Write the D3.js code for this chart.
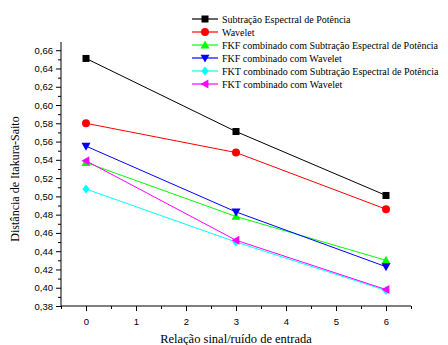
<!DOCTYPE html>
<html><head><meta charset="utf-8">
<script src="https://cdn.jsdelivr.net/npm/d3@7"></script>
<style>body{margin:0;background:#fff}svg{display:block}</style>
</head><body>
<svg id="c" width="448" height="345"></svg>
<script>
const xValues = [0, 3, 6];
const seriesNames = [
  "Subtração Espectral de Potência",
  "Wavelet",
  "FKF combinado com Subtração Espectral de Potência",
  "FKF combinado com Wavelet",
  "FKT combinado com Subtração Espectral de Potência",
  "FKT combinado com Wavelet"
];
const spsValues = [0.651, 0.571, 0.501];
const waveletValues = [0.580, 0.548, 0.486];
const fkfSpsValues = [0.537, 0.478, 0.430];
const fkfWaveletValues = [0.555, 0.483, 0.423];
const fktSpsValues = [0.508, 0.450, 0.397];
const fktWaveletValues = [0.539, 0.452, 0.398];
const seriesColors = ["#000000", "#ff0000", "#00ff00", "#0000ff", "#00ffff", "#ff00ff"];
const seriesMarkers = ["square", "circle", "triUp", "triDown", "diamond", "triLeft"];
const xTicks = [0, 1, 2, 3, 4, 5, 6];
const yTicks = [0.38,0.40,0.42,0.44,0.46,0.48,0.50,0.52,0.54,0.56,0.58,0.60,0.62,0.64,0.66];
const xTitle = "Relação sinal/ruído de entrada";
const yTitle = "Distância de Itakura-Saito";

const allValues = [spsValues, waveletValues, fkfSpsValues, fkfWaveletValues, fktSpsValues, fktWaveletValues];
const svg = d3.select("#c");
const x = d3.scaleLinear().domain([-0.5, 6.5]).range([61, 411]);
const y = d3.scaleLinear().domain([0.38, 0.669]).range([306, 42]);

function marker(g, type, cx, cy, color) {
  const s = 3.5;
  let el;
  if (type === "square") el = g.append("rect").attr("x", cx - s).attr("y", cy - s).attr("width", 2*s).attr("height", 2*s);
  else if (type === "circle") el = g.append("circle").attr("cx", cx).attr("cy", cy).attr("r", 4);
  else {
    let pts;
    const r = 4.5;
    if (type === "triUp") pts = [[cx, cy - r], [cx + r, cy + r*0.75], [cx - r, cy + r*0.75]];
    else if (type === "triDown") pts = [[cx, cy + r], [cx + r, cy - r*0.75], [cx - r, cy - r*0.75]];
    else if (type === "triLeft") pts = [[cx - r, cy], [cx + r*0.75, cy - r], [cx + r*0.75, cy + r]];
    else pts = [[cx, cy - r], [cx + r*0.8, cy], [cx, cy + r], [cx - r*0.8, cy]];
    el = g.append("polygon").attr("points", pts.map(p => p.join(",")).join(" "));
  }
  el.attr("fill", color);
}

// axes
const xAxis = svg.append("g").attr("transform", "translate(0,306)")
  .call(d3.axisBottom(x).tickValues(xTicks).tickSize(5).tickSizeOuter(0).tickFormat(d3.format("d")));
svg.append("g").attr("transform", "translate(0,306)")
  .call(d3.axisBottom(x).tickValues(d3.range(-0.5, 6.51, 1)).tickSize(3).tickFormat(""))
  .select(".domain").remove();
const yAxis = svg.append("g").attr("transform", "translate(61,0)")
  .call(d3.axisLeft(y).tickValues(yTicks).tickSize(5).tickSizeOuter(0).tickFormat(d => d3.format(".2f")(d).replace(".", ",")));
svg.append("g").attr("transform", "translate(61,0)")
  .call(d3.axisLeft(y).tickValues(d3.range(0.39, 0.666, 0.02)).tickSize(3).tickFormat(""))
  .select(".domain").remove();
svg.selectAll(".domain").attr("d", null);
svg.append("line").attr("x1", 61).attr("x2", 61).attr("y1", y.range()[1]).attr("y2", 306).attr("stroke", "#000");
svg.append("line").attr("x1", 61).attr("x2", 411).attr("y1", 306).attr("y2", 306).attr("stroke", "#000");
svg.selectAll(".tick text").attr("font-family", "Liberation Sans, Arial, sans-serif").attr("font-size", 9.5).attr("fill", "#000");
xAxis.selectAll(".tick text").attr("dy", "1.2em");

svg.append("text").attr("x", 236).attr("y", 343).attr("text-anchor", "middle")
  .attr("font-family", "Liberation Serif, Times New Roman, serif").attr("font-size", 12.5).text(xTitle);
svg.append("text").attr("transform", "translate(19,179) rotate(-90)").attr("text-anchor", "middle")
  .attr("font-family", "Liberation Serif, Times New Roman, serif").attr("font-size", 12).text(yTitle);

// series
const line = d3.line().x((d, i) => x(xValues[i])).y(d => y(d));
allValues.forEach((vals, k) => {
  const g = svg.append("g");
  g.append("path").attr("d", line(vals)).attr("fill", "none").attr("stroke", seriesColors[k]).attr("stroke-width", 1);
  vals.forEach((v, i) => marker(g, seriesMarkers[k], x(xValues[i]), y(v), seriesColors[k]));
});

// legend
seriesNames.forEach((name, k) => {
  const ly = 19 + k * 13;
  const g = svg.append("g");
  g.append("line").attr("x1", 192).attr("x2", 218).attr("y1", ly).attr("y2", ly).attr("stroke", seriesColors[k]).attr("stroke-width", 1.2);
  marker(g, seriesMarkers[k], 205, ly, seriesColors[k]);
  g.append("text").attr("x", 222).attr("y", ly + 3.5).attr("font-family", "Liberation Serif, Times New Roman, serif")
    .attr("font-size", 10).text(name);
});
</script>
</body></html>
